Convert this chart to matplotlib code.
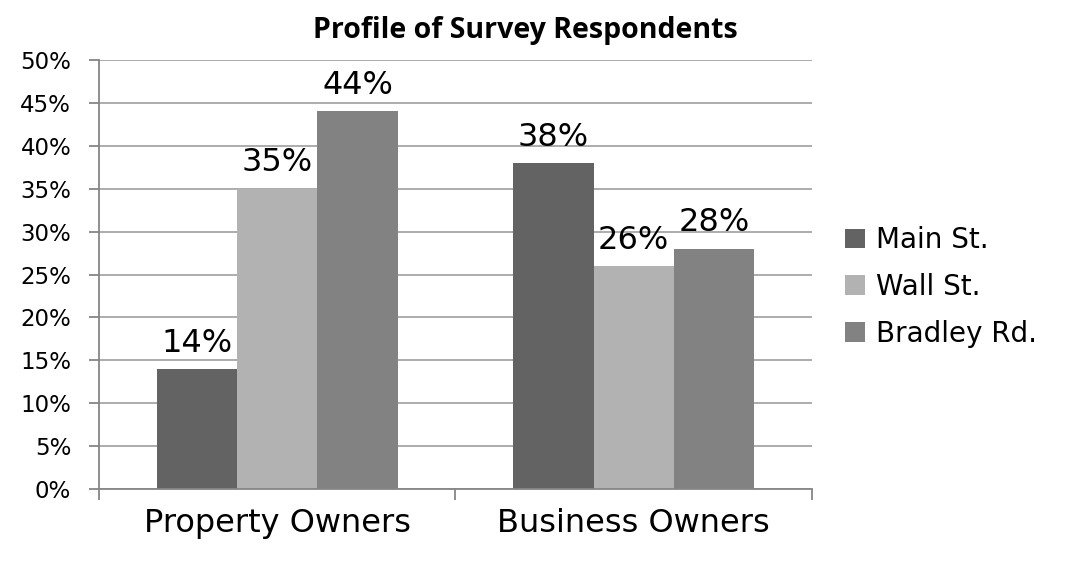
import matplotlib
matplotlib.use("Agg")
import matplotlib.pyplot as plt
from matplotlib.patches import Patch
from matplotlib.ticker import FixedLocator, PercentFormatter

categories = ["Property Owners", "Business Owners"]
series_names = ["Main St.", "Wall St.", "Bradley Rd."]
main_st = [14, 38]
wall_st = [35, 26]
bradley_rd = [44, 28]
y_ticks = [0, 5, 10, 15, 20, 25, 30, 35, 40, 45, 50]

colors = ["#636363", "#b2b2b2", "#828282"]
series = [main_st, wall_st, bradley_rd]

fig = plt.figure(figsize=(10.76, 5.63), dpi=100)
ax = fig.add_axes([0.092, 0.1314, 0.6626, 0.7620])

width = 0.225
x = range(len(categories))
for i, (vals, col) in enumerate(zip(series, colors)):
    xs = [c + (i - 1) * width for c in x]
    bars = ax.bar(xs, vals, width, color=col, zorder=3, linewidth=0)
    for b, v in zip(bars, vals):
        ax.annotate(f"{v}%", (b.get_x() + b.get_width() / 2, v),
                    xytext=(0, 12.5), textcoords="offset points",
                    ha="center", va="baseline", fontsize=23,
                    family="DejaVu Sans", color="black", zorder=4)

ax.set_xlim(-0.5, 1.5)
ax.set_ylim(0, 50)
ax.yaxis.set_major_locator(FixedLocator(y_ticks))
ax.yaxis.set_major_formatter(PercentFormatter(decimals=0))
ax.grid(axis="y", color="#a6a6a6", linewidth=1.3, zorder=0)

ax.set_xticks(list(x))
ax.set_xticklabels(categories, fontsize=23, family="DejaVu Sans")
ax.set_xticks([-0.5, 0.5, 1.5], minor=True)
ax.tick_params(axis="x", which="major", length=0, pad=14)
ax.tick_params(axis="x", which="minor", length=8, width=1.3, color="#868686")
ax.tick_params(axis="y", length=7, width=1.3, color="#868686", pad=13)
for lab in ax.get_yticklabels():
    lab.set_family("DejaVu Sans")
    lab.set_fontsize(16.5)

for side in ["top", "right"]:
    ax.spines[side].set_visible(False)
for side in ["left", "bottom"]:
    ax.spines[side].set_color("#868686")
    ax.spines[side].set_linewidth(1.3)
    ax.spines[side].set_zorder(5)

fig.text(0.488, 0.945, "Profile of Survey Respondents", ha="center",
         va="center", fontsize=20.5, fontweight="bold", family="Open Sans")

handles = [Patch(facecolor=c, edgecolor="none") for c in colors]
fig.legend(handles, series_names, loc="center left",
           bbox_to_anchor=(0.7853, 0.4902), frameon=False,
           handlelength=0.72, handleheight=0.72,
           handletextpad=0.4, labelspacing=0.68, borderpad=0,
           borderaxespad=0, prop={"family": "DejaVu Sans", "size": 20})

fig.savefig("out.png", dpi=100)
